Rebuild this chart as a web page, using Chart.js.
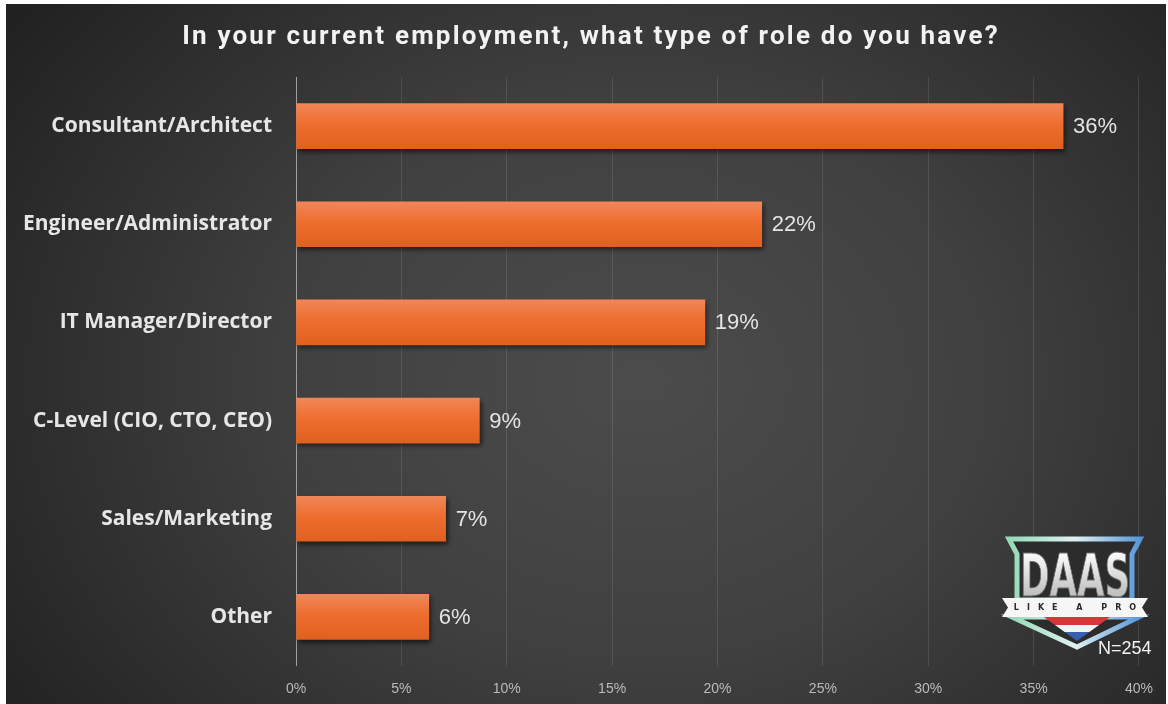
<!DOCTYPE html>
<html>
<head>
<meta charset="utf-8">
<title>Role in current employment</title>
<script src="https://cdn.jsdelivr.net/npm/chart.js@4.4.1/dist/chart.umd.min.js"></script>
<style>
  html, body { margin: 0; padding: 0; background: #fff; }
  #wrap { position: relative; width: 1168px; height: 704px; }
</style>
</head>
<body>
<div id="wrap"><canvas id="roles" width="1168" height="704"></canvas></div>
<script>
  const roles = [
    "Consultant/Architect",
    "Engineer/Administrator",
    "IT Manager/Director",
    "C-Level (CIO, CTO, CEO)",
    "Sales/Marketing",
    "Other"
  ];
  const shares = [36.4, 22.1, 19.4, 8.7, 7.1, 6.3];
  const axisMax = 40;
  const axisStep = 5;
  const respondents = 254;
  const chartTitle = "In your current employment, what type of role do you have?";

  // dark panel with a soft spotlight, white frame on the left/top edge
  const backdrop = {
    id: "backdrop",
    beforeDraw(chart) {
      const c = chart.ctx;
      c.save();
      c.fillStyle = "#ffffff";
      c.fillRect(0, 0, chart.width, chart.height);
      c.beginPath();
      c.rect(6, 4, 1160, 700);
      c.clip();
      c.translate(640, 380);
      c.scale(1.25, 1);
      const g = c.createRadialGradient(0, 0, 0, 0, 0, 620);
      g.addColorStop(0, "#4c4c4c");
      g.addColorStop(0.45, "#404040");
      g.addColorStop(1, "#212121");
      c.fillStyle = g;
      c.fillRect(-700, -500, 1400, 1000);
      c.restore();
    }
  };

  const heading = {
    id: "heading",
    afterDraw(chart) {
      const c = chart.ctx;
      c.save();
      c.font = "bold 26px Roboto";
      c.letterSpacing = "2.2px";
      c.fillStyle = "#f2f2f2";
      c.textAlign = "center";
      c.textBaseline = "middle";
      c.fillText(chartTitle, 591, 37);
      c.restore();
    }
  };

  const barShadow = {
    id: "barShadow",
    beforeDatasetsDraw(chart) {
      const c = chart.ctx;
      c.save();
      c.shadowColor = "rgba(0,0,0,0.6)";
      c.shadowBlur = 5;
      c.shadowOffsetX = 2;
      c.shadowOffsetY = 3;
    },
    afterDatasetsDraw(chart) {
      chart.ctx.restore();
    }
  };

  const valueLabels = {
    id: "valueLabels",
    afterDatasetsDraw(chart) {
      const c = chart.ctx;
      const meta = chart.getDatasetMeta(0);
      c.save();
      c.font = "22px 'Liberation Sans'";
      c.fillStyle = "#e4e4e4";
      c.textAlign = "left";
      c.textBaseline = "middle";
      meta.data.forEach((bar, i) => {
        c.fillText(Math.round(shares[i]) + "%", bar.x + 10, bar.y + 1);
      });
      c.restore();
    }
  };

  // DAAS "like a pro" badge and sample size
  const badge = {
    id: "badge",
    afterDraw(chart) {
      const c = chart.ctx;
      c.save();
      const rim = c.createLinearGradient(1005, 0, 1145, 0);
      rim.addColorStop(0, "#8fd8b4");
      rim.addColorStop(0.5, "#dff1f2");
      rim.addColorStop(1, "#4d8fd6");

      c.beginPath();
      c.moveTo(1009, 539);
      c.lineTo(1140, 539);
      c.lineTo(1132, 554);
      c.lineTo(1132, 600);
      c.lineTo(1017, 600);
      c.lineTo(1017, 554);
      c.closePath();
      c.fillStyle = "#2c2c2c";
      c.fill();
      c.lineWidth = 5;
      c.strokeStyle = rim;
      c.lineJoin = "miter";
      c.stroke();

      c.beginPath();
      c.moveTo(1012, 617);
      c.lineTo(1139, 617);
      c.lineTo(1077, 647);
      c.closePath();
      c.fillStyle = "#2c2c2c";
      c.fill();
      c.stroke();

      // flag stripes in the lower point
      c.save();
      c.beginPath();
      c.moveTo(1044, 617);
      c.lineTo(1110, 617);
      c.lineTo(1077, 641);
      c.closePath();
      c.clip();
      c.fillStyle = "#d23a3a";
      c.fillRect(1040, 617, 75, 8);
      c.fillStyle = "#f4f4f4";
      c.fillRect(1040, 625, 75, 7);
      c.fillStyle = "#3a5fb0";
      c.fillRect(1040, 632, 75, 10);
      c.restore();

      // lettering
      c.save();
      c.font = "bold 58px 'DejaVu Sans Condensed'";
      const w = c.measureText("DAAS").width;
      c.translate(1075, 596);
      c.scale(110 / w, 1);
      const silver = c.createLinearGradient(0, -45, 0, 0);
      silver.addColorStop(0, "#ffffff");
      silver.addColorStop(1, "#bdbdbd");
      c.textAlign = "center";
      c.textBaseline = "alphabetic";
      c.fillStyle = silver;
      c.fillText("DAAS", 0, 0);
      c.lineWidth = 1;
      c.strokeStyle = "#6e6e6e";
      c.strokeText("DAAS", 0, 0);
      c.restore();

      // ribbon
      c.beginPath();
      c.moveTo(1002, 598);
      c.lineTo(1148, 598);
      c.lineTo(1142, 607.5);
      c.lineTo(1148, 617);
      c.lineTo(1002, 617);
      c.lineTo(1008, 607.5);
      c.closePath();
      c.fillStyle = "#f6f6f6";
      c.fill();
      c.font = "bold 8px 'DejaVu Sans'";
      c.letterSpacing = "8px";
      c.fillStyle = "#2a2a2a";
      c.textAlign = "center";
      c.textBaseline = "middle";
      c.fillText("LIKE A PRO", 1079, 608);

      c.letterSpacing = "0px";
      c.font = "18px 'Liberation Sans'";
      c.fillStyle = "#f2f2f2";
      c.textAlign = "left";
      c.fillText("N=" + respondents, 1098, 649);
      c.restore();
    }
  };

  // vertical orange sheen across each bar
  function barFill(ctx) {
    const chart = ctx.chart;
    const y = chart.scales.y;
    const mid = (y && ctx.type === "data") ? y.getPixelForValue(ctx.dataIndex) : NaN;
    if (!isFinite(mid)) return "#ee6b2b";
    const g = chart.ctx.createLinearGradient(0, mid - 23, 0, mid + 23);
    g.addColorStop(0, "#f1875a");
    g.addColorStop(0.45, "#ee6e2f");
    g.addColorStop(1, "#e0601f");
    return g;
  }

  new Chart(document.getElementById("roles"), {
    type: "bar",
    data: {
      labels: roles,
      datasets: [{
        data: shares,
        backgroundColor: barFill,
        borderWidth: 0,
        barThickness: 45
      }]
    },
    options: {
      indexAxis: "y",
      responsive: false,
      animation: false,
      devicePixelRatio: 1,
      layout: { padding: { top: 77, right: 28, left: 0, bottom: 0 } },
      plugins: {
        legend: { display: false },
        tooltip: { enabled: false }
      },
      scales: {
        x: {
          min: 0,
          max: axisMax,
          ticks: {
            stepSize: axisStep,
            callback: (v) => v + "%",
            color: "#bababa",
            font: { family: "'Liberation Sans'", size: 14 },
            padding: 15,
            maxRotation: 0
          },
          grid: {
            drawTicks: false,
            color: (ctx) => ctx.index === 0 ? "#a0a0a0" : "rgba(255,255,255,0.11)"
          },
          border: { display: false },
          afterFit: (scale) => { scale.height = 38; }
        },
        y: {
          ticks: {
            color: "#e6e6e6",
            font: { family: "'Open Sans'", size: 21, weight: "bold" },
            padding: 16
          },
          grid: { display: false },
          border: { display: false },
          afterFit: (scale) => { scale.width = 296; }
        }
      }
    },
    plugins: [backdrop, barShadow, valueLabels, heading, badge]
  });
</script>
</body>
</html>
